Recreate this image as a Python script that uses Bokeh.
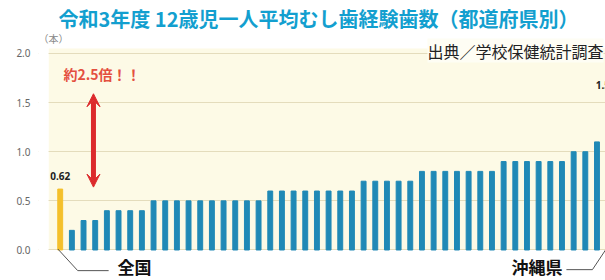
from bokeh.plotting import figure
from bokeh.models import (Range1d, FixedTicker, Label, BoxAnnotation, Arrow, VeeHead,
                          ColumnDataSource, NumeralTickFormatter)
from bokeh.embed import file_html
from bokeh.resources import INLINE

# ---------------- data ----------------
title_text = "令和3年度 12歳児一人平均むし歯経験歯数（都道府県別）"
source_text = "出典／学校保健統計調査"
unit_text = "（本）"
national_name = "全国"
okinawa_name = "沖縄県"
ratio_text = "約2.5倍！！"

national_value = 0.62
# 47 prefectures, sorted ascending (last = Okinawa)
prefecture_values = [0.2,
                     0.3, 0.3,
                     0.4, 0.4, 0.4, 0.4,
                     0.5, 0.5, 0.5, 0.5, 0.5, 0.5, 0.5, 0.5, 0.5, 0.5,
                     0.6, 0.6, 0.6, 0.6, 0.6, 0.6, 0.6, 0.6,
                     0.7, 0.7, 0.7, 0.7, 0.7,
                     0.8, 0.8, 0.8, 0.8, 0.8, 0.8, 0.8,
                     0.9, 0.9, 0.9, 0.9, 0.9, 0.9,
                     1.0, 1.0,
                     1.1,
                     1.55]
y_ticks = [0.0, 0.5, 1.0, 1.5, 2.0]

# ---------------- styles ----------------
BLUE = "#2089B6"
YELLOW = "#F4C02C"
CREAM = "#FDFAE6"
GRID = "#E4DCBC"
RED = "#DC2A2C"
JP = "Noto Sans CJK JP"

values = [national_value] + prefecture_values
idx = list(range(len(values)))
colors = [YELLOW] + [BLUE] * len(prefecture_values)
src = ColumnDataSource(dict(x=idx, top=values, color=colors))
last = idx[-1]
area_left = -1.0   # left edge of the cream plotting area (data units)

p = figure(width=605, height=280, title=None,
           x_range=Range1d(-1.86, 46.73), y_range=Range1d(-0.3104, 2.539),
           x_axis_location=None, y_axis_location="left",
           min_border_left=38, min_border_right=0, min_border_top=0, min_border_bottom=0,
           toolbar_location=None, output_backend="svg")
p.outline_line_color = None
p.background_fill_color = "white"
p.border_fill_color = "white"

# cream plotting area
p.add_layout(BoxAnnotation(left=area_left, bottom=0, top=2.05, fill_color=CREAM, fill_alpha=1.0,
                           line_alpha=0, level="image"))

p.ygrid.ticker = FixedTicker(ticks=y_ticks)
p.ygrid.grid_line_color = GRID
p.ygrid.grid_line_width = 1
p.xgrid.visible = False

# white strip left of the plotting area (hides grid lines there)
p.add_layout(BoxAnnotation(right=area_left, fill_color="white", fill_alpha=1.0,
                           line_alpha=0, level="underlay"))

ax = p.yaxis[0]
ax.ticker = FixedTicker(ticks=y_ticks)
ax.formatter = NumeralTickFormatter(format="0.0")
ax.axis_line_color = None
ax.major_tick_line_color = None
ax.minor_tick_line_color = None
ax.major_label_text_font = "Noto Sans"
ax.major_label_text_font_size = "10px"
ax.major_label_text_color = "#666666"
ax.major_label_standoff = 2

p.vbar(x="x", top="top", width=0.42, color="color", source=src)

# value labels
p.add_layout(Label(x=0, y=national_value, text=f"{national_value:.2f}", text_align="center",
                   text_baseline="bottom", y_offset=9, text_font="Noto Sans",
                   text_font_style="bold", text_font_size="10px", text_color="#222222"))
p.add_layout(Label(x=last, y=values[-1], text=f"{values[-1]:.2f}", text_align="center",
                   text_baseline="bottom", y_offset=9, x_offset=-3, text_font="Noto Sans",
                   text_font_style="bold", text_font_size="10px", text_color="#222222"))

# double arrow national -> max
ax_x = 2.85
p.add_layout(Arrow(start=VeeHead(size=13, fill_color=RED, line_color=RED),
                   end=VeeHead(size=13, fill_color=RED, line_color=RED),
                   x_start=ax_x, y_start=national_value + 0.02,
                   x_end=ax_x, y_end=values[-1] + 0.04,
                   line_color=RED, line_width=5))
p.add_layout(Label(x=25, y=207, x_units="screen", y_units="screen", text=ratio_text,
                   text_align="left", text_baseline="middle", text_font=JP,
                   text_font_style="bold", text_font_size="14px", text_color="#E4503F"))

# leader lines
p.line([0 - 0.2, 0 + 1.5, 0 + 4.15], [0.01, -0.21, -0.21], line_color="#555555", line_width=1)
p.line([last - 3.62, last - 1.39, last - 0.27], [-0.2, -0.2, 0.0], line_color="#555555", line_width=1)
p.add_layout(Label(x=4.9, y=-0.168, text=national_name, text_align="left", text_baseline="middle",
                   text_font=JP, text_font_style="bold", text_font_size="17px",
                   text_color="#111111"))
p.add_layout(Label(x=last - 3.96, y=-0.168, text=okinawa_name, text_align="right",
                   text_baseline="middle", text_font=JP, text_font_style="bold",
                   text_font_size="17px", text_color="#111111"))

# title / unit / source
p.add_layout(Label(x=280, y=262, x_units="screen", y_units="screen", text=title_text,
                   text_align="center", text_baseline="middle", text_font=JP,
                   text_font_style="bold", text_font_size="20px", text_color="#139FCF"))
p.add_layout(Label(x=15, y=242, x_units="screen", y_units="screen", text=unit_text,
                   text_align="center", text_baseline="middle", text_font=JP,
                   text_font_size="10px", text_color="#888888"))
p.add_layout(Label(x=565, y=230, x_units="screen", y_units="screen", text=source_text,
                   text_align="right", text_baseline="middle", text_font=JP,
                   text_font_size="16px", text_color="#222222",
                   background_fill_color="#FEFDF4", background_fill_alpha=1.0))

open("out.html", "w").write(file_html(p, INLINE))
